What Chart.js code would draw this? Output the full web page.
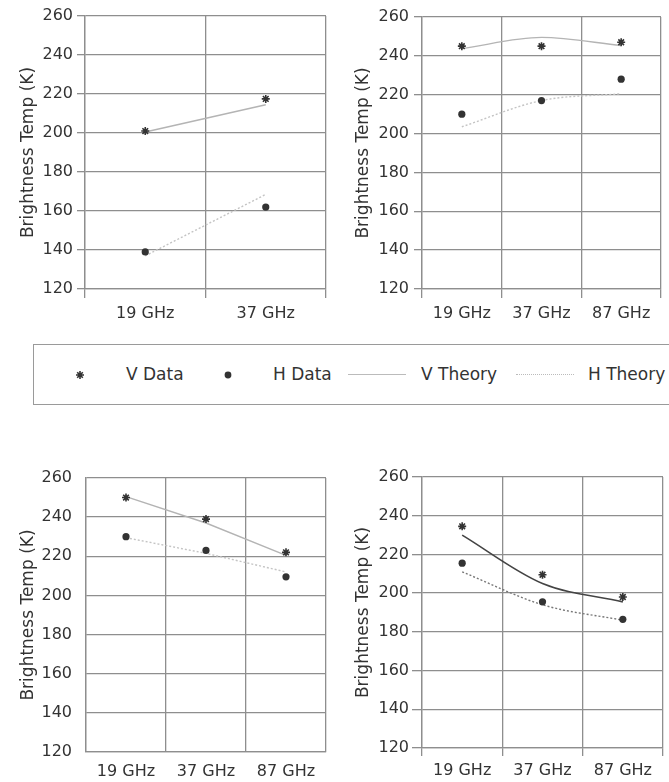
<!DOCTYPE html>
<html>
<head>
<meta charset="utf-8">
<script src="https://cdn.jsdelivr.net/npm/chart.js@4/dist/chart.umd.min.js"></script>
<style>
  html, body { margin: 0; padding: 0; background: #fff; }
  body { width: 669px; height: 782px; position: relative; overflow: hidden;
         font-family: "DejaVu Sans", sans-serif; color: #333; }
  canvas { position: absolute; }
  #legend { position: absolute; left: 33px; top: 344px; width: 700px; height: 61px;
            border: 1.5px solid #9a9a9a; box-sizing: border-box; }
  #legend .txt { position: absolute; top: 19px; font-size: 17px; line-height: 20px; white-space: nowrap; }
  #legend svg { position: absolute; }
  #legend .ln { position: absolute; top: 29px; width: 58px; height: 0; }
</style>
</head>
<body>
<canvas id="p1" width="335" height="330" style="left:0;top:0"></canvas>
<canvas id="p2" width="334" height="330" style="left:335px;top:0"></canvas>
<canvas id="p3" width="335" height="332" style="left:0;top:450px"></canvas>
<canvas id="p4" width="334" height="332" style="left:335px;top:450px"></canvas>

<div id="legend">
  <svg width="10" height="10" style="left:41px;top:25px" viewBox="-5 -5 10 10">
    <path d="M0,-4V4M-4,0H4M-2.8,-2.8L2.8,2.8M-2.8,2.8L2.8,-2.8" stroke="#333" stroke-width="1.6"/>
  </svg>
  <span class="txt" style="left:92px">V Data</span>
  <svg width="10" height="10" style="left:189px;top:25px" viewBox="-5 -5 10 10">
    <circle r="3.4" fill="#333"/>
  </svg>
  <span class="txt" style="left:239px">H Data</span>
  <div class="ln" style="left:314px;border-top:1.5px solid #bbb"></div>
  <span class="txt" style="left:387px">V Theory</span>
  <div class="ln" style="left:482px;border-top:1.5px dotted #bbb"></div>
  <span class="txt" style="left:554px">H Theory</span>
</div>

<script>
// categories
const freqs2 = ["19 GHz", "37 GHz"];
const freqs3 = ["19 GHz", "37 GHz", "87 GHz"];

// y axis range (K)
const yMin = 120;
const yMax = 260;
const yStep = 20;

// panel 1 (top left)
const vData1 = [201, 217.5];
const hData1 = [139, 162];
const vTheory1 = [200.5, 214.5];
const hTheory1 = [137, 168.5];

// panel 2 (top right)
const vData2 = [245, 245, 247];
const hData2 = [210, 217, 228];
const vTheory2 = [243.7, 249.5, 245.3];
const hTheory2 = [203.5, 217, 220.5];

// panel 3 (bottom left)
const vData3 = [250, 239, 222];
const hData3 = [230, 223, 209.5];
const vTheory3 = [250.5, 237, 220.5];
const hTheory3 = [229.5, 221.5, 212];

// panel 4 (bottom right)
const vData4 = [234.5, 209.5, 198];
const hData4 = [215.5, 195.5, 186.5];
const vTheory4 = [230, 205, 195.5];
const hTheory4 = [211, 194, 186];

const gridColor = "#8e8e8e";
const textColor = "#333";

// one small chart per panel; box = plot area inside the canvas
function makePanel(id, labels, vData, hData, vTheory, hTheory, box) {
    const canvas = document.getElementById(id);
    return new Chart(canvas, {
        type: "line",
        data: {
            labels: labels,
            datasets: [
                {
                    label: "V Data", data: vData, showLine: false,
                    pointStyle: "star", pointRadius: 4, pointBorderWidth: 1.6,
                    borderColor: "#333", backgroundColor: "#333"
                },
                {
                    label: "H Data", data: hData, showLine: false,
                    pointStyle: "circle", pointRadius: 3.6, pointBorderWidth: 0,
                    borderColor: "#333", backgroundColor: "#333"
                },
                {
                    label: "V Theory", data: vTheory, pointRadius: 0,
                    borderColor: box.vColor, borderWidth: box.vWidth,
                    cubicInterpolationMode: box.smooth ? "monotone" : "default"
                },
                {
                    label: "H Theory", data: hTheory, pointRadius: 0,
                    borderColor: box.hColor, borderWidth: 1.4, borderDash: [2, 2],
                    cubicInterpolationMode: box.smooth ? "monotone" : "default"
                }
            ]
        },
        options: {
            responsive: false,
            animation: false,
            layout: { padding: { top: box.top, right: canvas.width - box.right, bottom: 0, left: 0 } },
            plugins: { legend: { display: false }, tooltip: { enabled: false } },
            scales: {
                x: {
                    offset: true,
                    grid: {
                        offset: true, color: gridColor, lineWidth: 1.3,
                        drawTicks: box.xTick > 0, tickLength: box.xTick
                    },
                    border: { color: gridColor, width: 1.3 },
                    ticks: {
                        color: textColor, font: { family: "DejaVu Sans", size: 16 },
                        padding: box.xPad, autoSkip: false, maxRotation: 0
                    },
                    afterFit: s => { s.height = canvas.height - box.bottom; }
                },
                y: {
                    min: yMin, max: yMax,
                    grid: {
                        color: gridColor, lineWidth: 1.3,
                        drawTicks: box.yTick > 0, tickLength: box.yTick
                    },
                    border: { color: gridColor, width: 1.3 },
                    ticks: {
                        stepSize: yStep, color: textColor,
                        font: { family: "DejaVu Sans", size: 16 }, padding: box.yPad
                    },
                    title: {
                        display: true, text: "Brightness Temp (K)", color: textColor,
                        font: { family: "DejaVu Sans", size: 17 },
                        padding: { top: 18, bottom: 0 }
                    },
                    afterFit: s => { s.width = box.left; }
                }
            }
        }
    });
}

const light = { vColor: "#b4b4b4", vWidth: 1.4, hColor: "#c4c4c4", smooth: false };

makePanel("p1", freqs2, vData1, hData1, vTheory1, hTheory1,
    Object.assign({}, light, { left: 85, right: 326, top: 16, bottom: 289, yTick: 8, yPad: 4, xTick: 9, xPad: 6 }));
makePanel("p2", freqs3, vData2, hData2, vTheory2, hTheory2,
    Object.assign({}, light, { smooth: true, left: 87, right: 326, top: 17, bottom: 289, yTick: 8, yPad: 5, xTick: 9, xPad: 6 }));
makePanel("p3", freqs3, vData3, hData3, vTheory3, hTheory3,
    Object.assign({}, light, { left: 86, right: 326, top: 28, bottom: 302, yTick: 0, yPad: 14, xTick: 0, xPad: 10 }));
makePanel("p4", freqs3, vData4, hData4, vTheory4, hTheory4,
    { vColor: "#444", vWidth: 1.6, hColor: "#777", smooth: true,
      left: 87, right: 328, top: 27, bottom: 298, yTick: 10, yPad: 3, xTick: 8, xPad: 5 });
</script>
</body>
</html>
